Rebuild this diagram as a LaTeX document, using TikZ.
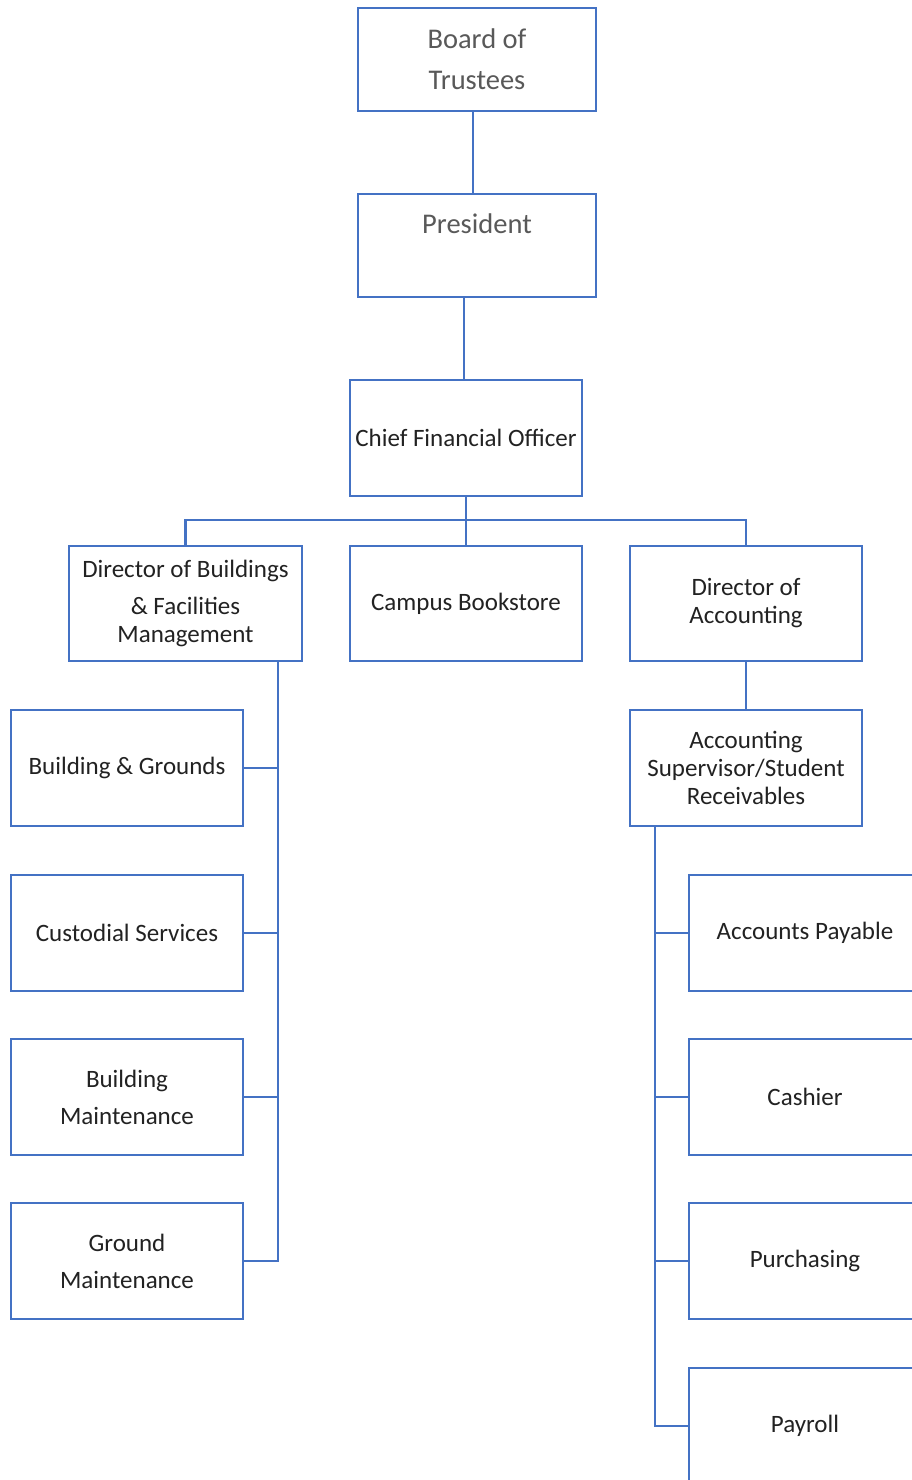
\documentclass[tikz,border=0pt]{standalone}
\usepackage{fontspec}
\setmainfont{Carlito}
\definecolor{lineblue}{HTML}{4472C4}
\definecolor{txtdark}{HTML}{222222}
\definecolor{txtgray}{HTML}{595959}
\begin{document}
\begin{tikzpicture}[x=1pt,y=-1pt,
  box/.style={draw=lineblue,line width=2.7pt,fill=white,align=center,inner sep=0pt,
    text=txtdark,font=\fontsize{25}{28}\selectfont,minimum width=232pt,minimum height=116pt},
  topbox/.style={box,minimum width=238pt,minimum height=103pt,text=txtgray,font=\fontsize{28.5}{41}\selectfont},
  conn/.style={draw=lineblue,line width=2.7pt}]
\clip (0,0) rectangle (912,1480);
\fill[white] (0,0) rectangle (912,1480);
% top chain
\node[topbox] (board) at (477,59.5) {Board of\\Trustees};
\node[topbox] (pres) at (477,245.5) {President\\[-10pt]\strut};
\node[box] (cfo) at (466,438) {Chief Financial Officer};
% second level
\node[box,minimum width=233pt,minimum height=115pt] (dirb) at (185.5,603.5) {Director of Buildings\\[9pt]\&~Facilities\\Management};
\node[box,minimum height=115pt] (book) at (466,603.5) {Campus Bookstore};
\node[box,minimum height=115pt] (dira) at (746,603.5) {Director of\\Accounting};
\node[box] (sup) at (746,768) {Accounting\\Supervisor/Student\\Receivables};
% left column
\node[box] (l1) at (127,768) {Building \& Grounds};
\node[box] (l2) at (127,933) {Custodial Services};
\node[box] (l3) at (127,1097) {Building\\[9pt]Maintenance};
\node[box] (l4) at (127,1261) {Ground\\[9pt]Maintenance};
% right column
\node[box] (r1) at (805,933) {Accounts Payable};
\node[box] (r2) at (805,1097) {Cashier};
\node[box] (r3) at (805,1261) {Purchasing};
\node[box] (r4) at (805,1426) {Payroll};
% connectors
\draw[conn] ([xshift=-4pt]board.south) -- ([xshift=-4pt]pres.north);
\draw[conn] ([xshift=-13pt]pres.south) -- ([xshift=-2pt]cfo.north);
\coordinate (bus) at (466,520);
\draw[conn] (cfo.south) -- (bus);
\draw[conn] (dirb.north) |- (bus) -| (dira.north);
\draw[conn] (bus) -- (book.north);
\draw[conn] (dira.south) -- (sup.north);
% left spine
\coordinate (ltop) at (278,661);
\draw[conn] (ltop) |- (l4.east);
\draw[conn] (l1.east) -- (l1.east -| ltop);
\draw[conn] (l2.east) -- (l2.east -| ltop);
\draw[conn] (l3.east) -- (l3.east -| ltop);
% right spine
\coordinate (rtop) at (655,826);
\draw[conn] (rtop) |- (r4.west);
\draw[conn] (r1.west) -- (r1.west -| rtop);
\draw[conn] (r2.west) -- (r2.west -| rtop);
\draw[conn] (r3.west) -- (r3.west -| rtop);
\end{tikzpicture}
\end{document}
